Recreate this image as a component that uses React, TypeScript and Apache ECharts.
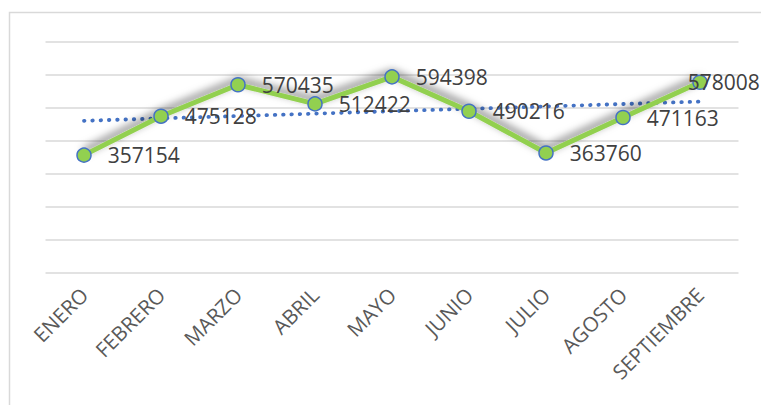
import React, { useEffect, useRef } from "react";
import * as echarts from "echarts";

const categories = ["ENERO", "FEBRERO", "MARZO", "ABRIL", "MAYO", "JUNIO", "JULIO", "AGOSTO", "SEPTIEMBRE"];
const values = [357154, 475128, 570435, 512422, 594398, 490216, 363760, 471163, 578008];
const yMin = 0;
const yMax = 700000;
const yInterval = 100000;

// linear trend line (least squares) derived from the values
function trend(v: number[]): number[] {
  const n = v.length;
  const xs = v.map((_, i) => i + 1);
  const mx = xs.reduce((a, b) => a + b, 0) / n;
  const my = v.reduce((a, b) => a + b, 0) / n;
  let num = 0;
  let den = 0;
  for (let i = 0; i < n; i++) {
    num += (xs[i] - mx) * (v[i] - my);
    den += (xs[i] - mx) * (xs[i] - mx);
  }
  const slope = num / den;
  return xs.map((x) => my + slope * (x - mx));
}

export default function App() {
  const ref = useRef<HTMLDivElement>(null);
  useEffect(() => {
    if (!ref.current) return;
    const chart = echarts.init(ref.current, null, { renderer: "svg" });
    const lastIdx = values.length - 1;
    chart.setOption({
      animation: false,
      backgroundColor: "#ffffff",
      graphic: [
        {
          type: "rect",
          shape: { x: 9.5, y: 12.5, width: 770, height: 420 },
          style: { fill: "none", stroke: "#d9d9d9", lineWidth: 1.5 },
          silent: true,
        },
      ],
      grid: { left: 45.5, right: 22.5, top: 42, bottom: 132 },
      xAxis: {
        type: "category",
        data: categories,
        boundaryGap: true,
        axisLine: { show: false },
        axisTick: { show: false },
        axisLabel: {
          rotate: 45,
          margin: 18,
          interval: 0,
          color: "#595959",
          fontSize: 20.5,
          fontFamily: "Open Sans",
        },
      },
      yAxis: {
        type: "value",
        min: yMin,
        max: yMax,
        interval: yInterval,
        axisLabel: { show: false },
        axisLine: { show: false },
        axisTick: { show: false },
        splitLine: { lineStyle: { color: "#d9d9d9", width: 1.5 } },
      },
      series: [
        {
          type: "line",
          data: trend(values),
          symbol: "none",
          z: 1,
          lineStyle: {
            color: "#4472C4",
            width: 3.8,
            type: [0.5, 7.8],
            cap: "round",
          },
          silent: true,
        },
        {
          type: "line",
          z: 2,
          data: values.map((v, i) =>
            i === lastIdx ? { value: v, label: { offset: [-36, 0] } } : v
          ),
          symbol: "circle",
          symbolSize: 14,
          lineStyle: {
            color: "#92D050",
            width: 5,
            shadowColor: "rgba(0,0,0,0.6)",
            shadowBlur: 9,
            shadowOffsetY: -4,
          },
          itemStyle: {
            color: "#92D050",
            borderColor: "#4472C4",
            borderWidth: 1.5,
          },
          label: {
            show: true,
            position: "right",
            distance: 16,
            color: "#404040",
            fontSize: 21,
            fontFamily: "Open Sans",
          },
        },
      ],
    });
    return () => chart.dispose();
  }, []);
  return (
    <div
      ref={ref}
      style={{ position: "absolute", left: 0, top: 0, width: 761, height: 405 }}
    />
  );
}
